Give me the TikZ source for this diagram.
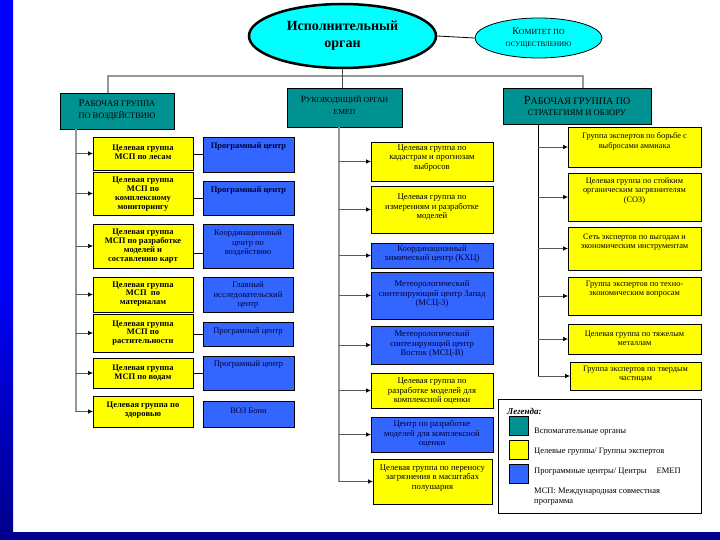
\documentclass[tikz,border=0pt]{standalone}
\usepackage{fontspec}
\setmainfont{Liberation Serif}
\usetikzlibrary{arrows.meta,shapes.geometric,calc}
\definecolor{ybx}{RGB}{255,255,0}
\definecolor{bbx}{RGB}{51,102,255}
\definecolor{tbx}{RGB}{0,145,145}
\definecolor{cyx}{RGB}{0,255,255}
\definecolor{sblue}{RGB}{0,0,255}
\definecolor{navy}{RGB}{0,0,140}
\definecolor{glc}{RGB}{150,150,150}
\definecolor{btxt}{RGB}{0,0,60}
\newcommand\twosz[4]{{\fontsize{#1}{12}\selectfont #2}{\fontsize{#3}{12}\selectfont #4}}
\newcommand\mkbox[9]{%
  \node[#2, anchor=north west, minimum width={(#6-#4)*1pt}, minimum height={(#7-#5)*1pt}] (#1) at (#4,#5) {};
  \node[txt, #3] (#1t) at ({(#4+#6)/2},#8) {#9};
}
\tikzset{
  ybox/.style={draw=black, fill=ybx, line width=0.8pt, inner sep=0pt, outer sep=0pt},
  bbox/.style={draw=black, fill=bbx, line width=0.8pt, inner sep=0pt, outer sep=0pt},
  tbox/.style={draw=black, fill=tbx, line width=0.8pt, inner sep=0pt, outer sep=0pt},
  txt/.style={align=center, inner sep=0pt},
  lyf/.style={font=\fontsize{8.5}{8.8}\selectfont\bfseries},
  lbf/.style={font=\fontsize{8.5}{9}\selectfont\bfseries, text=btxt},
  lbr/.style={font=\fontsize{8.5}{9.3}\selectfont, text=btxt},
  myf/.style={font=\fontsize{8.7}{9.5}\selectfont},
  mbf/.style={font=\fontsize{8.7}{9.5}\selectfont, text=btxt},
  ryf/.style={font=\fontsize{8.3}{9.2}\selectfont},
  hdf/.style={font=\fontsize{8}{11.5}\selectfont},
  gl/.style={draw=glc, line width=1.6pt},
  dl/.style={draw=black!70, line width=1pt},
  arr/.style={draw=black!65, line width=0.7pt, -{Latex[length=5pt,width=4.5pt,color=black]}},
  cn/.style={draw=black, line width=0.8pt},
  lgt/.style={anchor=west, inner sep=0pt, font=\fontsize{8.5}{10}\selectfont, align=left},
  lsq/.style={draw=black, line width=0.6pt, minimum width=19pt, minimum height=19pt, inner sep=0pt, anchor=north west}
}
\begin{document}
\begin{tikzpicture}[x=1pt,y=-1pt]
\useasboundingbox (0,0) rectangle (720,540);
\fill[white] (0,0) rectangle (720,540);
\shade[top color=sblue, bottom color=navy, middle color=sblue] (0,0) rectangle (13,540);
\fill[navy] (0,532) rectangle (720,540);

% top ellipses
\node[ellipse, draw=black, line width=2.5pt, fill=cyx, minimum width=187pt, minimum height=64pt, inner sep=0pt,
      align=center, font=\fontsize{14}{17}\selectfont\bfseries] (ex) at (342.5,36) {Исполнительный\\орган};
\node[ellipse, draw=black, line width=0.8pt, fill=cyx, minimum width=127pt, minimum height=40pt, inner sep=0pt,
      align=center, font=\fontsize{7}{11.5}\selectfont] (ce) at (538.5,38) {\twosz{10}{К}{7.8}{ОМИТЕТ ПО}\\ОСУЩЕСТВЛЕНИЮ};
\draw[cn] (ex.east) -- (ce.west);

% headers
\mkbox{lh}{tbox}{hdf}{60}{93}{174}{129}{110}{\twosz{10.5}{Р}{8.6}{АБОЧАЯ ГРУППА}\\{\fontsize{8.3}{9}\selectfont ПО ВОЗДЕЙСТВИЮ}}
\mkbox{mh}{tbox}{hdf}{287}{88}{402}{127}{105}{\twosz{9.5}{Р}{7.7}{УКОВОДЯЩИЙ ОРГАН}\\{\fontsize{7.7}{9}\selectfont ЕМЕП}}
\mkbox{rh}{tbox}{hdf}{503}{88}{651}{124}{106}{\twosz{12.5}{Р}{10}{АБОЧАЯ ГРУППА ПО}\\{\fontsize{8.6}{9}\selectfont СТРАТЕГИЯМ И ОБЗОРУ}}

\coordinate (hl) at (108,76);
\coordinate (hr) at (583,76);
\draw[gl] (lh.north -| hl) -- (hl) -- (hr) -- (rh.north -| hr);
\draw[dl] (ex.south) -- (ex.south |- mh.north);

% left column
\mkbox{L1}{ybox}{lyf}{93}{137}{193}{170}{152}{Целевая группа\\МСП по лесам}
\mkbox{L2}{ybox}{lyf}{93}{172}{193}{215}{194}{Целевая группа\\МСП по\\комплексному\\мониторингу}
\mkbox{L3}{ybox}{lyf}{93}{224}{193}{268}{246}{Целевая группа\\МСП по разработке\\моделей и\\составлению карт}
\mkbox{L4}{ybox}{lyf}{93}{277}{193}{312}{294}{Целевая группа\\МСП\ \ по\\материалам}
\mkbox{L5}{ybox}{lyf}{93}{314}{193}{352}{333}{Целевая группа\\МСП по\\растительности}
\mkbox{L6}{ybox}{lyf}{93}{358}{193}{388}{373}{Целевая группа\\МСП по водам}
\mkbox{L7}{ybox}{lyf}{93}{396}{193}{427}{410}{Целевая группа по\\здоровью}

\mkbox{B1}{bbox}{lbf}{203}{137}{294}{172}{146}{Програмный центр}
\mkbox{B2}{bbox}{lbf}{203}{181}{294}{215}{190}{Програмный центр}
\mkbox{B3}{bbox}{lbr}{203}{224}{293}{268}{243}{Координационный\\центр по\\воздействию}
\mkbox{B4}{bbox}{lbr}{203}{277}{293}{312}{295}{Главный\\исследовательский\\центр}
\mkbox{B5}{bbox}{lbr}{203}{322}{293}{346}{331}{Програмный центр}
\mkbox{B6}{bbox}{lbr}{203}{356}{294}{390}{364}{Програмный центр}
\mkbox{B7}{bbox}{lbr}{203}{401}{294}{427}{411}{ВОЗ Бонн}

\coordinate (lx) at (76,0);
\draw[gl] (lh.south -| lx) -- (L7.west -| lx);
\foreach \n in {L1,L2,L3,L4,L5,L6,L7} \draw[arr] (\n.west -| lx) -- (\n.west);
\draw[cn] (B1.west -| L1.east) -- (B1.west);
\draw[cn] (B2.west -| L2.east) -- (B2.west);
\draw[cn] ($(B3.west -| L3.east)+(0,7)$) -- ($(B3.west)+(0,7)$);
\draw[cn] (B5.west -| L5.east) -- (B5.west);
\draw[cn] (B6.west -| L6.east) -- (B6.west);

% middle column
\mkbox{M1}{ybox}{myf}{371}{142}{493}{181}{158}{Целевая группа по\\кадастрам и прогнозам\\выбросов}
\mkbox{M2}{ybox}{myf}{371}{186}{493}{233}{207}{Целевая группа по\\измерениям и разработке\\моделей}
\mkbox{M3}{bbox}{mbf}{371}{243}{493}{268}{254}{Координационный\\химический центр (КХЦ)}
\mkbox{M4}{bbox}{mbf}{371}{272}{493}{319}{294}{Метеорологический\\синтезирующий центр Запад\\(МСЦ-З)}
\mkbox{M5}{bbox}{mbf}{371}{326}{493}{364}{344}{Метеорологический\\синтезирующий центр\\Восток (МСЦ-В)}
\mkbox{M6}{ybox}{myf}{371}{373}{493}{408}{391}{Целевая группа по\\разработке моделей для\\комплексной оценки}
\mkbox{M7}{bbox}{mbf}{371}{417}{493}{452}{434}{Центр по разработке\\моделей для комплексной\\оценки}
\mkbox{M8}{ybox}{myf}{373}{459}{492}{504}{478}{Целевая группа по переносу\\загрязнения в масштабах\\полушария}

\coordinate (mx) at (339,0);
\draw[gl] (mh.south -| mx) -- (M8.west -| mx);
\foreach \n in {M1,M2,M3,M4,M5,M6,M7,M8} \draw[arr] (\n.west -| mx) -- (\n.west);

% right column
\mkbox{R1}{ybox}{ryf}{568}{127}{701}{167}{141.5}{Группа экспертов по борьбе с\\выбросами аммиака}
\mkbox{R2}{ybox}{ryf}{568}{173}{701}{221}{191}{Целевая группа по стойким\\органическим загрязнителям\\(СОЗ)}
\mkbox{R3}{ybox}{ryf}{568}{227}{701}{270}{242}{Сеть экспертов по выгодам и\\экономическим инструментам}
\mkbox{R4}{ybox}{ryf}{568}{277}{701}{315}{289.5}{Группа экспертов по техно-\\экономическим вопросам}
\mkbox{R5}{ybox}{ryf}{568}{324}{701}{354}{338}{Целевая группа по тяжелым\\металлам}
\mkbox{R6}{ybox}{ryf}{570}{362}{701}{390}{374}{Группа экспертов по твердым\\частицам}

\coordinate (rx) at (538,0);
\draw[draw=black, line width=1pt] (rh.south -| rx) -- (R6.west -| rx);
\foreach \n in {R1,R2,R3,R4,R5,R6} \draw[arr] (\n.west -| rx) -- (\n.west);

% legend
\node[draw=black, line width=0.8pt, anchor=north west, minimum width=203pt, minimum height=114pt, inner sep=0pt] (lg) at (498,399) {};
\node[lgt, font=\fontsize{9}{10}\selectfont\bfseries\itshape] (lgh) at (507,411) {Легенда:};
\node[lsq, fill=tbx] (sq1) at (509,416) {};
\node[lsq, fill=ybx] (sq2) at (509,440) {};
\node[lsq, fill=bbx] (sq3) at (509,464) {};
\node[lgt] (lt1) at (534,432) {Вспомагательные органы};
\node[lgt] (lt2) at (534,452) {Целевые группы/ Группы экспертов};
\node[lgt] (lt3) at (534,472) {Программные центры/ Центры\hspace{10pt}ЕМЕП};
\node[lgt] (lt4) at (534,497) {МСП: Международная совместная\\программа};
\end{tikzpicture}
\end{document}
